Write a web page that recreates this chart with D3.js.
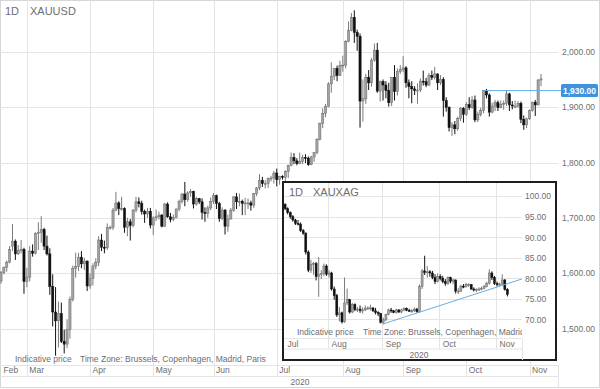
<!DOCTYPE html>
<html><head><meta charset="utf-8">
<script src="https://cdn.jsdelivr.net/npm/d3@7"></script>
<style>body{margin:0;background:#fff}svg{display:block;font-family:Arial,"Liberation Sans",sans-serif}</style>
</head><body><svg id="c" width="600" height="389"></svg>
<script>
// ---------- data ----------
const period = "1D";
const goldSymbol = "XAUUSD";
const ratioSymbol = "XAUXAG";
const goldStart = "2020-02-18", goldEnd = "2020-11-06";
const ratioStart = "2020-07-09";
// [open, high, low, close] per trading day (weekdays)
const goldOHLC = [
[1586,1604,1581,1601],[1601,1612,1598,1611],[1611,1623,1603,1620],[1620,1649,1618,1643],[1649,1689,1640,1658],
[1658,1661,1624,1635],[1635,1651,1633,1641],[1641,1660,1636,1643],[1643,1646,1563,1585],
[1585,1610,1575,1593],[1593,1649,1585,1640],[1640,1652,1630,1636],[1636,1674,1634,1672],[1672,1692,1642,1674],
[1674,1703,1655,1679],[1679,1682,1642,1649],[1649,1668,1632,1635],[1635,1645,1561,1576],[1576,1598,1504,1530],
[1530,1575,1451,1514],[1514,1549,1466,1527],[1527,1547,1474,1477],[1477,1498,1455,1472],[1472,1517,1465,1498],
[1498,1558,1482,1553],[1553,1614,1549,1609],[1609,1637,1592,1612],[1612,1637,1604,1629],[1629,1640,1609,1617],
[1617,1628,1606,1622],[1622,1623,1568,1577],
[1577,1600,1572,1591],[1591,1618,1578,1613],[1613,1627,1607,1620],[1620,1667,1613,1660],[1660,1671,1640,1647],
[1647,1659,1636,1646],[1646,1690,1642,1683],[1683,1686,1679,1683],[1683,1718,1678,1714],[1714,1747,1712,1727],
[1727,1730,1705,1717],[1717,1738,1713,1717],[1717,1719,1673,1683],[1683,1700,1667,1693],[1693,1698,1659,1686],
[1686,1716,1683,1714],[1714,1738,1710,1729],[1729,1737,1719,1726],[1726,1731,1706,1712],[1712,1715,1691,1707],
[1707,1718,1700,1712],[1712,1718,1681,1687],
[1687,1703,1669,1700],[1700,1715,1694,1702],[1702,1711,1697,1705],[1705,1707,1683,1685],[1685,1727,1684,1725],
[1725,1728,1700,1702],[1702,1709,1692,1697],[1697,1706,1694,1701],[1701,1717,1699,1716],[1716,1733,1712,1730],
[1730,1745,1726,1743],[1743,1765,1721,1733],[1733,1748,1729,1745],[1745,1752,1738,1748],[1748,1749,1717,1725],
[1725,1738,1722,1735],[1735,1736,1725,1729],[1729,1735,1697,1710],[1710,1719,1693,1708],[1708,1722,1700,1718],
[1718,1737,1714,1730],
[1730,1745,1725,1740],[1740,1742,1716,1726],[1726,1729,1693,1699],[1699,1719,1696,1714],[1714,1716,1670,1685],
[1685,1706,1675,1698],[1698,1718,1697,1714],[1714,1739,1711,1738],[1738,1745,1716,1729],[1729,1744,1721,1730],
[1730,1733,1705,1726],[1726,1736,1705,1727],[1727,1735,1716,1727],[1727,1731,1713,1723],[1723,1745,1718,1744],
[1744,1756,1739,1754],[1754,1779,1750,1768],[1768,1774,1756,1762],[1762,1768,1753,1762],[1762,1773,1754,1771],
[1771,1776,1766,1772],[1772,1785,1762,1781],
[1781,1789,1757,1769],[1769,1776,1760,1775],[1775,1777,1769,1773],[1773,1786,1766,1784],[1784,1796,1772,1795],
[1795,1818,1793,1809],[1809,1817,1797,1803],[1803,1808,1795,1798],[1798,1818,1797,1802],[1802,1814,1797,1809],
[1809,1815,1799,1808],[1808,1811,1794,1796],[1796,1812,1795,1810],[1810,1819,1801,1818],[1818,1844,1815,1842],
[1842,1872,1840,1871],[1871,1898,1862,1889],[1889,1906,1882,1901],[1901,1945,1900,1942],[1942,1981,1926,1956],
[1956,1971,1949,1970],[1970,1975,1947,1957],[1957,1984,1956,1975],
[1975,1993,1964,1976],[1976,2021,1970,2019],[2019,2055,2017,2039],[2039,2070,2037,2062],[2062,2075,2016,2035],
[2035,2040,2002,2028],[2028,2033,1863,1911],[1911,1950,1874,1915],[1915,1960,1906,1954],[1954,1967,1931,1944],
[1944,1989,1937,1985],[1985,2015,1982,2003],[2003,2016,1926,1929],[1929,1948,1910,1946],[1946,1950,1912,1940],
[1940,1947,1916,1930],[1930,1944,1901,1908],[1908,1954,1902,1954],[1954,1976,1912,1928],[1928,1970,1921,1964],
[1964,1976,1960,1968],
[1968,1992,1963,1971],[1971,1974,1935,1944],[1944,1950,1916,1937],[1937,1947,1907,1933],[1933,1938,1922,1930],
[1930,1943,1906,1931],[1931,1952,1927,1947],[1947,1966,1939,1946],[1946,1953,1936,1940],[1940,1962,1938,1957],
[1957,1966,1949,1954],[1954,1973,1950,1960],[1960,1961,1931,1944],[1944,1958,1940,1950],[1950,1954,1883,1912],
[1912,1918,1892,1900],[1900,1901,1856,1863],[1863,1873,1848,1868],[1868,1875,1851,1861],[1861,1883,1857,1880],
[1880,1900,1875,1898],[1898,1900,1872,1887],
[1887,1909,1884,1905],[1905,1918,1895,1899],[1899,1920,1897,1913],[1913,1921,1873,1877],[1877,1892,1873,1887],
[1887,1899,1883,1894],[1894,1931,1889,1930],[1930,1933,1916,1922],[1922,1925,1883,1891],[1891,1908,1889,1902],
[1902,1913,1893,1908],[1908,1912,1893,1899],[1899,1912,1898,1905],[1905,1912,1895,1907],[1907,1931,1902,1924],
[1924,1926,1893,1904],[1904,1911,1896,1902],[1902,1912,1898,1902],[1902,1911,1899,1907],[1907,1910,1871,1878],
[1878,1885,1859,1868],[1868,1881,1862,1879],
[1879,1896,1877,1894],[1894,1910,1892,1909],[1909,1913,1884,1904],[1904,1951,1903,1949],[1949,1960,1938,1951]
];
const ratioOHLC = [
[98.0,98.3,96.6,97.0],[97.0,97.3,95.6,96.0],[96.0,96.3,94.5,95.0],[95.0,95.4,93.8,94.2],[94.2,94.5,93.0,93.4],
[93.4,94.2,92.9,93.2],[93.2,93.6,91.3,91.6],[91.6,92.0,90.6,91.0],[91.0,91.2,85.8,86.4],[86.4,86.8,81.5,82.0],
[82.0,84.5,81.3,83.4],[83.4,84.0,80.9,83.6],[83.6,84.0,79.5,80.4],[80.4,85.2,75.5,81.0],[81.0,82.0,79.8,81.2],
[81.2,83.6,80.5,83.0],[83.0,83.4,80.6,81.0],
[81.0,82.0,80.2,81.3],[81.3,81.6,77.0,77.4],[77.4,78.0,74.8,75.8],[75.8,76.2,70.6,71.1],[71.1,73.0,69.5,71.6],
[71.6,71.9,69.0,69.4],[69.4,80.2,69.2,74.0],[74.0,77.5,73.5,74.8],[74.8,75.0,71.4,71.8],[71.8,74.0,71.5,73.6],
[73.6,73.9,72.0,72.4],[72.4,73.0,71.8,72.5],[72.5,73.4,71.6,72.2],[72.2,73.0,71.4,72.3],[72.3,73.4,72.0,72.7],
[72.7,73.2,72.3,72.8],[72.8,73.6,72.2,72.8],[72.8,72.9,71.8,72.1],[72.1,72.8,71.2,71.7],[71.7,72.0,70.8,71.4],
[71.4,71.6,69.0,69.3],
[69.3,70.4,68.8,69.9],[69.9,71.4,69.6,71.2],[71.2,72.6,71.0,72.3],[72.3,72.8,71.6,72.1],[72.1,72.3,71.5,71.7],
[71.7,72.6,71.4,72.3],[72.3,72.5,71.6,71.8],[71.8,72.6,71.5,72.3],[72.3,72.9,72.0,72.7],[72.7,72.9,72.0,72.2],
[72.2,72.6,71.9,72.1],[72.1,72.5,71.6,72.1],[72.1,72.9,71.8,72.5],[72.5,72.8,71.6,71.9],[71.9,78.5,71.6,78.0],
[78.0,82.3,77.4,81.8],[81.8,85.5,80.8,81.4],[81.4,83.0,80.2,81.6],[81.6,82.0,80.4,81.3],[81.3,81.8,79.8,80.2],
[80.2,81.0,78.6,79.2],[79.2,81.2,79.0,80.4],
[80.4,81.0,79.5,80.0],[80.0,80.6,78.8,79.2],[79.2,79.8,78.2,78.7],[78.7,80.5,78.4,80.2],[80.2,80.4,78.8,79.3],
[79.3,79.9,78.6,79.6],[79.6,79.7,76.3,76.9],[76.9,77.6,76.2,76.9],[76.9,78.4,76.7,78.1],[78.1,78.6,77.6,78.0],
[78.0,78.9,77.7,78.5],[78.5,78.8,77.9,78.5],[78.5,78.6,77.2,77.4],[77.4,77.8,76.8,77.2],[77.2,77.6,76.6,77.3],
[77.3,77.8,76.9,77.4],[77.4,78.0,77.1,77.6],[77.6,78.4,77.3,78.0],[78.0,79.2,77.8,78.8],[78.8,82.2,78.5,81.3],
[81.3,81.7,79.6,80.2],[80.2,80.6,78.4,78.7],
[78.7,79.2,78.0,78.6],[78.6,79.0,78.1,78.6],[78.6,81.0,78.2,79.6],[79.6,79.8,77.0,77.3],[77.3,77.6,75.6,76.1]
];
const goldTicks = [1500, 1600, 1700, 1800, 1900, 2000];
const ratioTicks = [70, 75, 80, 85, 90, 95, 100];
const monthNames = ["Jan","Feb","Mar","Apr","May","Jun","Jul","Aug","Sep","Oct","Nov","Dec"];
const yearLabel = "2020";
const noteIndicative = "Indicative price";
const noteTimeZone = "Time Zone: Brussels, Copenhagen, Madrid, Paris";
const goldLevel = 1930, goldLevelFrom = "2020-10-09";
const ratioTrend = [["2020-09-01", 68.9], ["2020-11-06", 78.7]];

// ---------- helpers ----------
const parse = d3.utcParse("%Y-%m-%d");
const goldDates = d3.utcDay.range(parse(goldStart), d3.utcDay.offset(parse(goldEnd), 1))
  .filter(d => d.getUTCDay() % 6 !== 0);
const ratioDates = goldDates.filter(d => d >= parse(ratioStart));
const gold = goldDates.map((d, i) => ({d, o: goldOHLC[i][0], h: goldOHLC[i][1], l: goldOHLC[i][2], c: goldOHLC[i][3]}));
const ratio = ratioDates.map((d, i) => ({d, o: ratioOHLC[i][0], h: ratioOHLC[i][1], l: ratioOHLC[i][2], c: ratioOHLC[i][3]}));
const fmt = d3.format(",.2f");
const GRID = "#e4e4e4", TXT = "#6e6e6e";

const svg = d3.select("#c");
const defs = svg.append("defs");

function monthStarts(dates) {
  return dates.filter((d, i) => i === 0 || d.getUTCMonth() !== dates[i - 1].getUTCMonth());
}

function candles(g, data, x, y, w) {
  const c = g.selectAll("g.cd").data(data).join("g").attr("class", "cd");
  c.append("line")
    .attr("x1", d => x(+d.d)).attr("x2", d => x(+d.d))
    .attr("y1", d => y(d.h)).attr("y2", d => y(d.l))
    .attr("stroke", d => d.c >= d.o ? "#7a7a7a" : "#111").attr("stroke-width", 1);
  c.append("rect")
    .attr("x", d => x(+d.d) - w / 2).attr("width", w)
    .attr("y", d => y(Math.max(d.o, d.c)))
    .attr("height", d => Math.max(1, Math.abs(y(d.o) - y(d.c))))
    .attr("fill", d => d.c >= d.o ? "#a3a3a3" : "#111")
    .attr("stroke", d => d.c >= d.o ? "#6a6a6a" : "#111").attr("stroke-width", 0.5);
}

// ---------- main chart ----------
const M = {left: 0, right: 558, top: 0, bottom: 365, monthRow: 376, yearRow: 387};
const x = d3.scalePoint().domain(goldDates.map(d => +d)).range([1, 541]);
const y = d3.scaleLinear().domain([1500, 2000]).range([328.6, 51.8]);

svg.append("rect").attr("x", 0.5).attr("y", 0.5).attr("width", 599).attr("height", 387)
  .attr("fill", "#fff").attr("stroke", "#d6d6d6");

const grid = svg.append("g");
grid.selectAll("line.h").data(goldTicks).join("line")
  .attr("x1", M.left).attr("x2", M.right).attr("y1", d => Math.round(y(d)) + 0.5).attr("y2", d => Math.round(y(d)) + 0.5)
  .attr("stroke", GRID);
const gms = monthStarts(goldDates);
grid.selectAll("line.v").data(gms.slice(1)).join("line")
  .attr("x1", d => Math.round(x(+d)) + 0.5).attr("x2", d => Math.round(x(+d)) + 0.5)
  .attr("y1", M.top).attr("y2", M.monthRow).attr("stroke", GRID);
[M.bottom, M.monthRow].forEach(v => grid.append("line").attr("x1", 0).attr("x2", M.right)
  .attr("y1", v + 0.5).attr("y2", v + 0.5).attr("stroke", GRID));
grid.append("line").attr("x1", M.right + 0.5).attr("x2", M.right + 0.5).attr("y1", M.bottom).attr("y2", M.yearRow).attr("stroke", GRID);

defs.append("clipPath").attr("id", "mclip").append("rect").attr("x", 0).attr("y", 0).attr("width", M.right).attr("height", M.bottom);
candles(svg.append("g").attr("clip-path", "url(#mclip)"), gold, x, y, 2.2);

// right axis
const yAxis = svg.append("g").attr("transform", `translate(${M.right},0)`)
  .call(d3.axisRight(y).tickValues(goldTicks).tickFormat(fmt).tickSize(0).tickPadding(4));
yAxis.select(".domain").remove();
yAxis.selectAll("text").attr("fill", TXT).attr("font-size", 8.5).attr("font-family", "Arial, 'Liberation Sans', sans-serif");

// month labels
const xAxis = svg.append("g").attr("transform", `translate(0,${M.bottom})`)
  .call(d3.axisBottom(x).tickValues(gms.map(d => +d)).tickFormat(v => monthNames[new Date(v).getUTCMonth()]).tickSize(0).tickPadding(0));
xAxis.select(".domain").remove();
xAxis.selectAll("text").attr("text-anchor", "start").attr("dx", (v, i) => i === 0 ? 2 : 2).attr("dy", 8)
  .attr("fill", TXT).attr("font-size", 8.5).attr("font-family", "Arial, 'Liberation Sans', sans-serif");
svg.append("text").attr("x", 300).attr("y", 384.5).attr("text-anchor", "middle")
  .attr("fill", TXT).attr("font-size", 8.5).text(yearLabel);

// notes
svg.append("text").attr("x", 15).attr("y", 362).attr("fill", TXT).attr("font-size", 8.5).text(noteIndicative);
svg.append("text").attr("x", 80).attr("y", 362).attr("fill", TXT).attr("font-size", 8.5).text(noteTimeZone);

// title
svg.append("text").attr("x", 5).attr("y", 15).attr("fill", TXT).attr("font-size", 11).text(period);
svg.append("text").attr("x", 30).attr("y", 15).attr("fill", TXT).attr("font-size", 11).text(goldSymbol);

// level line
const ly = y(goldLevel);
svg.append("line").attr("x1", x(+parse(goldLevelFrom))).attr("x2", 562).attr("y1", ly).attr("y2", ly)
  .attr("stroke", "#6aaee3").attr("stroke-width", 1);
svg.append("rect").attr("x", 561).attr("y", ly - 6.5).attr("width", 37).attr("height", 13).attr("rx", 1.5)
  .attr("fill", "#3f92dc");
svg.append("text").attr("x", 579.5).attr("y", ly + 3.2).attr("text-anchor", "middle").attr("fill", "#fff")
  .attr("font-size", 8.5).attr("font-weight", "bold").text(fmt(goldLevel));

// ---------- inset chart ----------
const I = {left: 284, right: 522, top: 183, bottom: 338.5, monthRow: 349, yearRow: 360};
const ix = d3.scalePoint().domain(ratioDates.map(d => +d)).range([285.1, 507.4]);
const iy = d3.scaleLinear().domain([70, 100]).range([319.4, 196.2]);
const ins = svg.append("g");
ins.append("rect").attr("x", 283).attr("y", 182).attr("width", 273).attr("height", 178)
  .attr("fill", "#fff").attr("stroke", "#1e1e1e").attr("stroke-width", 2);
ins.selectAll("line.h").data(ratioTicks).join("line")
  .attr("x1", I.left).attr("x2", I.right).attr("y1", d => Math.round(iy(d)) + 0.5).attr("y2", d => Math.round(iy(d)) + 0.5)
  .attr("stroke", GRID);
const rms = monthStarts(ratioDates);
ins.selectAll("line.v").data(rms.slice(1)).join("line")
  .attr("x1", d => Math.round(ix(+d)) - 0.5).attr("x2", d => Math.round(ix(+d)) - 0.5)
  .attr("y1", I.top).attr("y2", I.monthRow).attr("stroke", GRID);
[I.bottom, I.monthRow].forEach(v => ins.append("line").attr("x1", I.left).attr("x2", I.right)
  .attr("y1", v).attr("y2", v).attr("stroke", GRID));
ins.append("line").attr("x1", I.right + 0.5).attr("x2", I.right + 0.5).attr("y1", I.bottom).attr("y2", I.yearRow).attr("stroke", GRID);

defs.append("clipPath").attr("id", "iclip").append("rect").attr("x", I.left).attr("y", I.top).attr("width", I.right - I.left).attr("height", I.bottom - I.top);
const ig = ins.append("g").attr("clip-path", "url(#iclip)");
candles(ig, ratio, ix, iy, 2);

// trend line extended to plot edge
const t0 = [ix(+parse(ratioTrend[0][0])), iy(ratioTrend[0][1])];
const t1 = [ix(+parse(ratioTrend[1][0])), iy(ratioTrend[1][1])];
const slope = (t1[1] - t0[1]) / (t1[0] - t0[0]);
ig.append("line").attr("x1", t0[0]).attr("y1", t0[1]).attr("x2", I.right).attr("y2", t0[1] + slope * (I.right - t0[0]))
  .attr("stroke", "#6aaee3").attr("stroke-width", 1);

// notes (clipped)
ig.append("text").attr("x", 297).attr("y", 335).attr("fill", TXT).attr("font-size", 8.5).text(noteIndicative);
ig.append("text").attr("x", 363).attr("y", 335).attr("fill", TXT).attr("font-size", 8.5).text(noteTimeZone);

const iyAxis = ins.append("g").attr("transform", `translate(${I.right},0)`)
  .call(d3.axisRight(iy).tickValues(ratioTicks).tickFormat(fmt).tickSize(0).tickPadding(3));
iyAxis.select(".domain").remove();
iyAxis.selectAll("text").attr("fill", TXT).attr("font-size", 8.5).attr("font-family", "Arial, 'Liberation Sans', sans-serif");

const ixAxis = ins.append("g").attr("transform", `translate(0,${I.bottom})`)
  .call(d3.axisBottom(ix).tickValues(rms.map(d => +d)).tickFormat(v => monthNames[new Date(v).getUTCMonth()]).tickSize(0).tickPadding(0));
ixAxis.select(".domain").remove();
ixAxis.selectAll("text").attr("text-anchor", "start").attr("dx", 2).attr("dy", 8)
  .attr("fill", TXT).attr("font-size", 8.5).attr("font-family", "Arial, 'Liberation Sans', sans-serif");
ins.append("text").attr("x", 419).attr("y", 357.5).attr("text-anchor", "middle").attr("fill", TXT).attr("font-size", 8.5).text(yearLabel);

ins.append("text").attr("x", 289).attr("y", 196).attr("fill", TXT).attr("font-size", 11).text(period);
ins.append("text").attr("x", 313).attr("y", 196).attr("fill", TXT).attr("font-size", 11).text(ratioSymbol);
</script></body></html>
